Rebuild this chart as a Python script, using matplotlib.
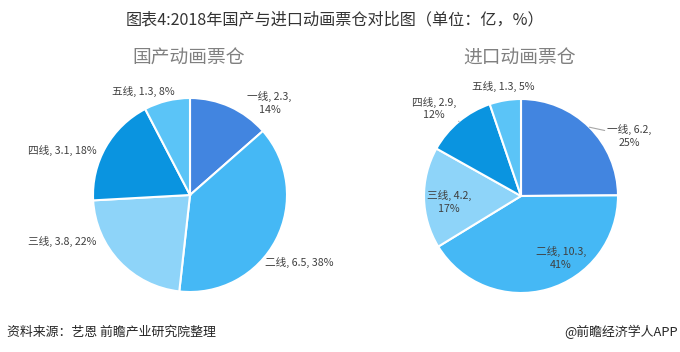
import matplotlib
matplotlib.use("Agg")
import matplotlib.pyplot as plt
import numpy as np

plt.rcParams["font.family"] = ["Noto Sans CJK SC", "DejaVu Sans"]

# data (亿)
tiers = ["一线", "二线", "三线", "四线", "五线"]
domestic = [2.3, 6.5, 3.8, 3.1, 1.3]
domestic_pct = ["14%", "38%", "22%", "18%", "8%"]
imported = [6.2, 10.3, 4.2, 2.9, 1.3]
imported_pct = ["25%", "41%", "17%", "12%", "5%"]

colors = ["#4285E0", "#45B8F5", "#8ED4F9", "#0A94E0", "#5BC4F7"]
text_color = "#404040"

fig = plt.figure(figsize=(6.8, 3.52), dpi=100)
W, H = 680, 352


def pie_axes(cx, cy, r):
    return fig.add_axes([(cx - r) / W, (H - cy - r) / H, 2 * r / W, 2 * r / H])


def draw_pie(ax, values, pcts, label_pos, wrap, leaders):
    wedges, _ = ax.pie(values, colors=colors, startangle=90, counterclock=False,
                       radius=1.0, wedgeprops=dict(edgecolor="white", linewidth=1.5))
    ax.set_xlim(-1, 1)
    ax.set_ylim(-1, 1)
    ax.set_aspect("equal")
    ax.axis("off")
    for i, w in enumerate(wedges):
        sep = ",\n" if wrap[i] else ", "
        txt = f"{tiers[i]}, {values[i]}{sep}{pcts[i]}"
        x, y = label_pos[i]
        if leaders[i]:
            ang = np.deg2rad((w.theta1 + w.theta2) / 2)
            ax.annotate(txt, xy=(np.cos(ang), np.sin(ang)), xytext=(x, y),
                        ha="center", va="center", fontsize=7.7, color=text_color,
                        linespacing=1.3,
                        arrowprops=dict(arrowstyle="-", color="#A6A6A6", lw=0.8,
                                        shrinkA=0, shrinkB=0))
        else:
            ax.text(x, y, txt, ha="center", va="center", fontsize=7.7,
                    color=text_color, linespacing=1.3)


ax1 = pie_axes(190, 195, 97)
draw_pie(ax1, domestic, domestic_pct,
         [(0.82, 0.95), (1.13, -0.70), (-1.32, -0.48), (-1.32, 0.46), (-0.48, 1.07)],
         [True, False, False, False, False],
         [False, False, False, False, False])

ax2 = pie_axes(521, 196, 97)
draw_pie(ax2, imported, imported_pct,
         [(1.12, 0.62), (0.41, -0.64), (-0.74, -0.06), (-0.90, 0.90), (-0.18, 1.13)],
         [True, True, True, True, False],
         [True, False, False, True, False])

fig.text(335 / W, 1 - 20 / H, "图表4:2018年国产与进口动画票仓对比图（单位：亿，%）",
         ha="center", va="center", fontsize=11.6, color="#333333")
fig.text(189 / W, 1 - 58 / H, "国产动画票仓", ha="center", va="center",
         fontsize=13.5, color="#808080")
fig.text(520 / W, 1 - 58 / H, "进口动画票仓", ha="center", va="center",
         fontsize=13.5, color="#808080")
fig.text(7 / W, 1 - 332 / H, "资料来源：艺恩 前瞻产业研究院整理", ha="left", va="center",
         fontsize=9.3, color="#262626", style="italic")
fig.text(678 / W, 1 - 332 / H, "@前瞻经济学人APP", ha="right", va="center",
         fontsize=9.3, color="#262626")

fig.savefig("out.png", dpi=100)
